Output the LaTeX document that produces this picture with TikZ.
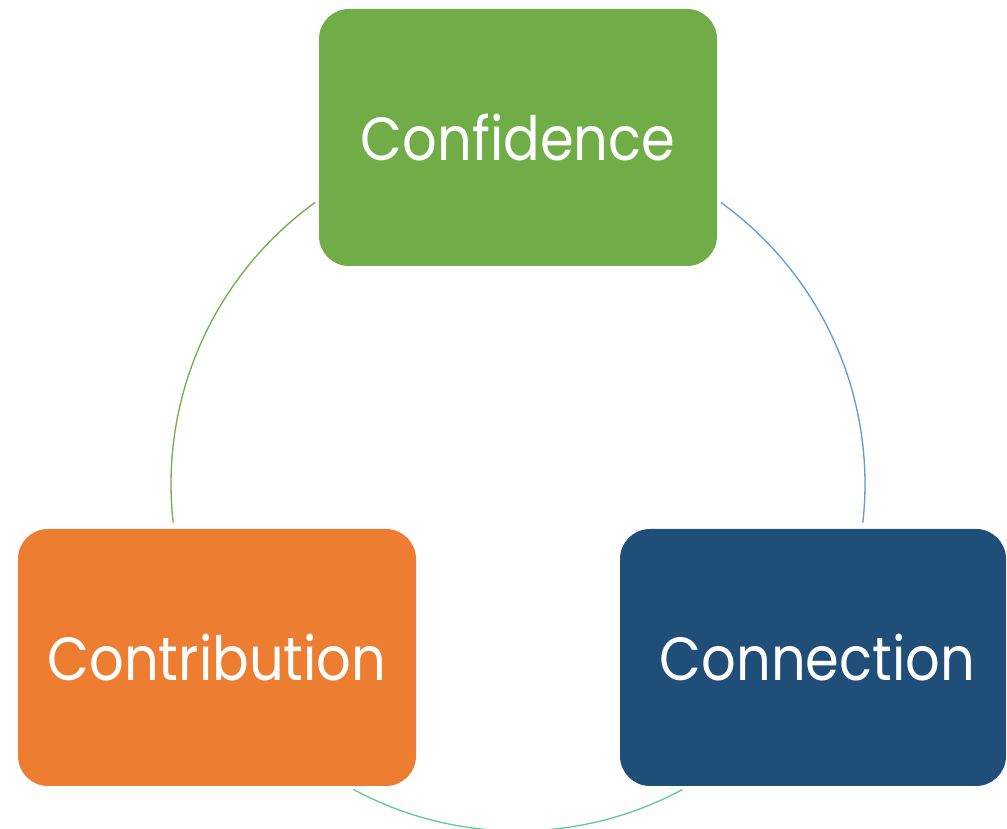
\documentclass[tikz,border=0pt]{standalone}
\usepackage{fontspec}
\setmainfont{Poppins}
\newfontfamily\boxfont{Poppins}[FakeStretch=0.89]
\definecolor{cgreen}{HTML}{70AD47}
\definecolor{corange}{HTML}{ED7D31}
\definecolor{cblue}{HTML}{1F4E79}
\definecolor{arcblue}{HTML}{5B9BD5}
\definecolor{arcteal}{HTML}{5CCB94}
\usetikzlibrary{calc}
\begin{document}
\begin{tikzpicture}[x=1pt,y=1pt,
  box/.style={rounded corners=30pt, minimum width=398pt, minimum height=257pt, inner sep=0pt,
    text=white, font=\boxfont\fontsize{61}{61}\selectfont},
  ring/.style={line width=1.3pt}]
\useasboundingbox (0,0) rectangle (1007,829);
\coordinate (c) at (518,345);
\node[box, fill=cgreen] (conf) at (518,691.5) {Confidence};
\node[box, fill=corange] (contr) at (217,171.5) {Contribution};
\node[box, fill=cblue, minimum width=386pt] (conn) at (813,171.5) {\hspace{9pt}Connection};
\draw[ring, cgreen] ($(c)+(125.8:347)$) arc[start angle=125.8, end angle=186.4, radius=347];
\draw[ring, arcblue] ($(c)+(54.2:347)$) arc[start angle=54.2, end angle=-6.4, radius=347];
\draw[ring, arcteal] ($(c)+(-118.3:347)$) arc[start angle=-118.3, end angle=-61.7, radius=347];
\end{tikzpicture}
\end{document}
